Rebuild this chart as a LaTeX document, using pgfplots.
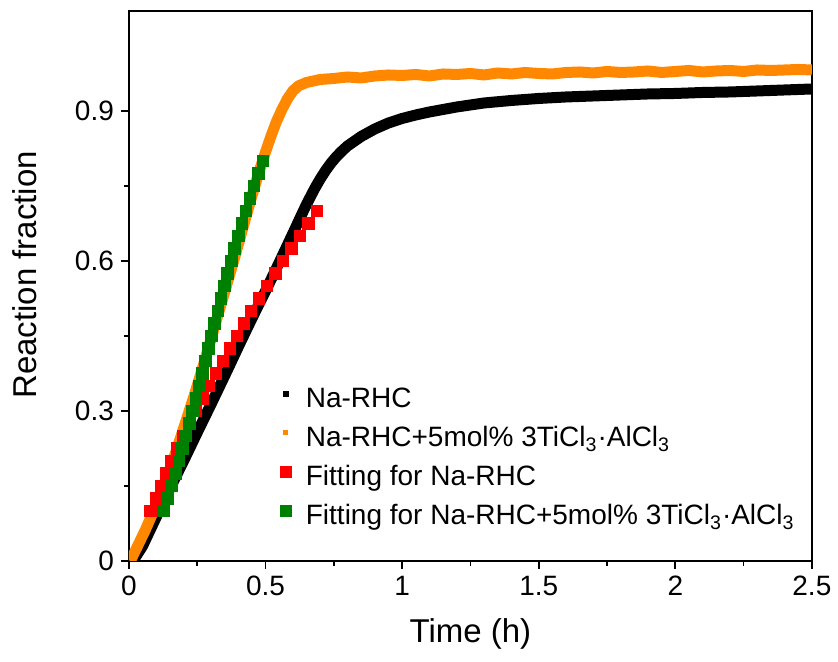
\documentclass[border=0pt]{standalone}
\usepackage{fontspec}
\setmainfont{Liberation Sans}
\usepackage{pgfplots}
\pgfplotsset{compat=1.18}
\definecolor{myorange}{RGB}{255,136,0}
\definecolor{mygreen}{RGB}{0,128,0}
\begin{document}
\begin{tikzpicture}
\begin{axis}[
  scale only axis, width=341.5pt, height=275pt,
  xmin=0, xmax=2.5, ymin=0, ymax=1.1,
  xtick={0,0.5,1,1.5,2,2.5}, ytick={0,0.3,0.6,0.9},
  minor x tick num=1, minor y tick num=1,
  tick pos=left, tick align=outside,
  major tick length=4pt, minor tick length=2.5pt,
  axis line style={line width=0.8pt},
  every tick/.style={line width=0.8pt, black},
  /pgf/number format/assume math mode=true,
  ticklabel style={font=\fontsize{14}{16}\selectfont},
  xlabel={Time (h)}, ylabel={Reaction fraction},
  label style={font=\fontsize{16.5}{19}\selectfont},
  ylabel style={at={(axis description cs:-0.135,0.52)}, anchor=south, rotate=0, inner sep=0pt},
  xlabel style={at={(axis description cs:0.5,-0.105)}, anchor=north, inner sep=0pt},
  legend cell align=left,
  legend style={at={(rel axis cs:0.221,0.3165)}, anchor=north west, draw=none, fill=none,
    inner sep=0pt, outer sep=0pt, row sep=6pt, column sep=7pt,
    nodes={inner sep=0pt, text height=10pt, text depth=3pt},
    font=\fontsize{14}{16}\selectfont},
]
\addplot[black, line width=5.5pt, line join=round,
  legend image code/.code={\path[draw=none] (-3pt,0pt) rectangle (3pt,7pt); \fill[black, draw=none] (-1.5pt,2pt) rectangle (1.5pt,5pt);}]
table {
0.015 0
0.05 0.03
0.10 0.088
0.15 0.145
0.20 0.200
0.25 0.257
0.30 0.313
0.35 0.370
0.40 0.428
0.45 0.485
0.50 0.540
0.55 0.597
0.60 0.655
0.64 0.702
0.66 0.724
0.68 0.745
0.70 0.764
0.72 0.781
0.74 0.796
0.76 0.809
0.78 0.820
0.80 0.830
0.85 0.849
0.90 0.864
0.95 0.876
1.00 0.885
1.05 0.892
1.10 0.898
1.20 0.908
1.30 0.916
1.40 0.921
1.50 0.925
1.60 0.928
1.70 0.930
1.80 0.932
1.90 0.934
2.00 0.935
2.10 0.937
2.20 0.938
2.30 0.940
2.40 0.942
2.50 0.944
};
\addlegendentry{Na-RHC}
\addplot[myorange, line width=5.5pt, line join=round,
  legend image code/.code={\path[draw=none] (-3pt,0pt) rectangle (3pt,7pt); \fill[myorange, draw=none] (-1.25pt,2.25pt) rectangle (1.25pt,4.75pt);}]
table {
0.005 0
0.03 0.028
0.06 0.062
0.09 0.100
0.12 0.140
0.15 0.183
0.18 0.232
0.21 0.282
0.24 0.333
0.27 0.387
0.30 0.443
0.33 0.500
0.36 0.556
0.39 0.613
0.42 0.672
0.45 0.730
0.48 0.785
0.50 0.818
0.52 0.850
0.54 0.879
0.56 0.903
0.58 0.924
0.60 0.940
0.62 0.950
0.65 0.957
0.70 0.963
0.75 0.965
0.80 0.968
0.85 0.966
0.90 0.970
0.95 0.972
1.00 0.971
1.05 0.973
1.10 0.970
1.15 0.974
1.20 0.973
1.25 0.975
1.30 0.972
1.35 0.976
1.40 0.974
1.45 0.977
1.50 0.975
1.55 0.974
1.60 0.977
1.65 0.978
1.70 0.976
1.75 0.979
1.80 0.977
1.85 0.978
1.90 0.980
1.95 0.977
2.00 0.979
2.05 0.981
2.10 0.978
2.15 0.980
2.20 0.981
2.25 0.979
2.30 0.982
2.35 0.981
2.40 0.982
2.45 0.983
2.50 0.982
};
\addlegendentry{Na-RHC+5mol\% 3TiCl\textsubscript{3}·AlCl\textsubscript{3}}
\addplot[only marks, mark=square*, mark size=2.9pt, red, mark options={draw=none},
  legend image code/.code={\path[draw=none] (-3pt,0pt) rectangle (3pt,7pt); \fill[red, draw=none] (-2.9pt,0.6pt) rectangle (2.9pt,6.4pt);}]
table {
0.078 0.100
0.098 0.125
0.117 0.150
0.137 0.175
0.156 0.200
0.176 0.225
0.197 0.250
0.219 0.275
0.243 0.300
0.268 0.325
0.293 0.350
0.318 0.375
0.344 0.400
0.370 0.425
0.395 0.450
0.420 0.475
0.447 0.500
0.476 0.525
0.505 0.550
0.535 0.575
0.564 0.600
0.595 0.625
0.626 0.650
0.657 0.675
0.688 0.700
};
\addlegendentry{Fitting for Na-RHC}
\addplot[only marks, mark=square*, mark size=2.9pt, mygreen, mark options={draw=none},
  legend image code/.code={\path[draw=none] (-3pt,0pt) rectangle (3pt,7pt); \fill[mygreen, draw=none] (-2.9pt,0.6pt) rectangle (2.9pt,6.4pt);}]
table {
0.126 0.100
0.140 0.125
0.155 0.150
0.170 0.175
0.183 0.200
0.196 0.225
0.209 0.250
0.221 0.275
0.233 0.300
0.245 0.325
0.256 0.350
0.268 0.375
0.280 0.400
0.291 0.425
0.302 0.450
0.313 0.475
0.325 0.500
0.337 0.525
0.349 0.550
0.361 0.575
0.374 0.600
0.387 0.625
0.400 0.650
0.414 0.675
0.428 0.700
0.443 0.725
0.458 0.750
0.474 0.775
0.491 0.800
};
\addlegendentry{Fitting for Na-RHC+5mol\% 3TiCl\textsubscript{3}·AlCl\textsubscript{3}}
\end{axis}
\path (-64.5pt,-50.5pt) rectangle (354.5pt,280.5pt);
\end{tikzpicture}
\end{document}
